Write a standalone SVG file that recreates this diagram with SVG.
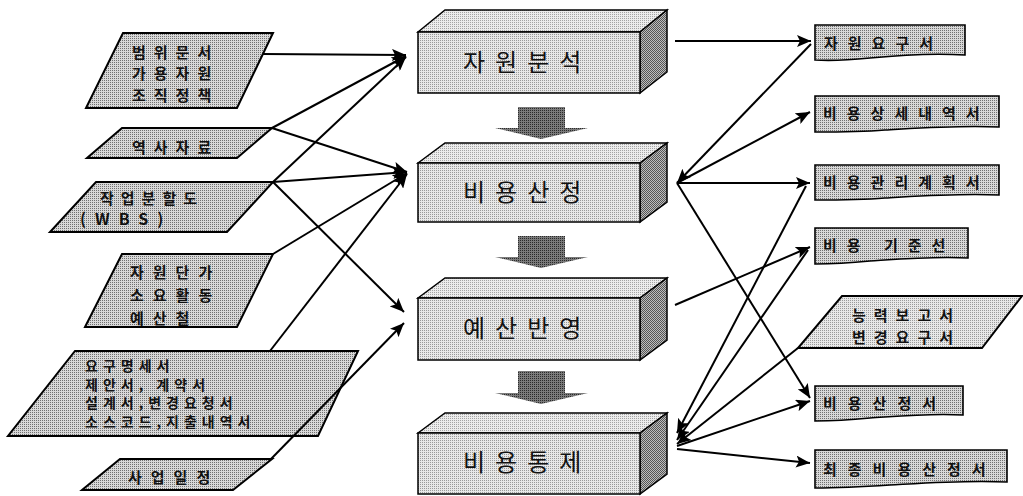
<svg xmlns="http://www.w3.org/2000/svg" width="1023" height="496" viewBox="0 0 1023 496">
  <defs>
    <!-- halftone fills -->
    <pattern id="dotMid" width="2" height="2" patternUnits="userSpaceOnUse">
      <rect width="2" height="2" fill="#d8d8d8"/>
      <rect width="1" height="1" fill="#707070"/>
    </pattern>
    <pattern id="dotLight" width="2" height="2" patternUnits="userSpaceOnUse">
      <rect width="2" height="2" fill="#e8e8e8"/>
      <rect width="1" height="1" fill="#9a9a9a"/>
    </pattern>
    <pattern id="dotTop" width="2" height="2" patternUnits="userSpaceOnUse">
      <rect width="2" height="2" fill="#ececec"/>
      <rect width="1" height="1" fill="#a4a4a4"/>
    </pattern>
    <pattern id="dotSide" width="2" height="2" patternUnits="userSpaceOnUse">
      <rect width="2" height="2" fill="#bdbdbd"/>
      <rect width="1" height="1" fill="#555"/>
      <rect x="1" y="1" width="1" height="1" fill="#555"/>
    </pattern>
    <pattern id="dotDark" width="2" height="2" patternUnits="userSpaceOnUse">
      <rect width="2" height="2" fill="#7a7a7a"/>
      <rect width="1" height="1" fill="#2a2a2a"/>
    </pattern>
    <marker id="arrow" markerUnits="userSpaceOnUse" markerWidth="15" markerHeight="12" refX="14" refY="6" orient="auto">
      <path d="M0,0 L14,6 L0,12 L3,6 Z" fill="#000"/>
    </marker>
  </defs>
  <style>
    .inp { fill: url(#dotMid); stroke: #000; stroke-width: 2; }
    .doc { fill: url(#dotMid); stroke: #000; stroke-width: 1.6; }
    .face { fill: url(#dotLight); stroke: #000; stroke-width: 1.5; }
    .top { fill: url(#dotTop); stroke: #000; stroke-width: 1.5; }
    .side { fill: url(#dotSide); stroke: #000; stroke-width: 1.5; }
    .flow { fill: url(#dotDark); stroke: none; }
    .t { font-family: "Noto Sans CJK KR", "Noto Sans", sans-serif; font-weight: 700; fill: #111; }
    .s16 { font-size: 15px; letter-spacing: 8px; }
    .s15 { font-size: 14px; letter-spacing: 5px; }
    .r15 { font-size: 15px; letter-spacing: 10px; }
    .big { font-family: "Noto Sans CJK KR", "Noto Sans", sans-serif; font-size: 24px; letter-spacing: 10px; fill: #111; }
    .conn line { stroke: #000; stroke-width: 2; marker-end: url(#arrow); }
  </style>

  <!-- inputs on the left -->
  <g id="in-scope">
    <polygon class="inp" points="123,33 273,33 237,108 86,108"/>
    <text class="t s16" x="132" y="58">범위문서</text>
    <text class="t s16" x="132" y="79">가용자원</text>
    <text class="t s16" x="132" y="101">조직정책</text>
  </g>
  <g id="in-history">
    <polygon class="inp" points="122,128 272,128 237,158 87,158"/>
    <text class="t s16" x="132" y="153">역사자료</text>
  </g>
  <g id="in-wbs">
    <polygon class="inp" points="96,182 273,182 227,232 50,232"/>
    <text class="t s16" x="100" y="204" style="letter-spacing:7px">작업분할도</text>
    <text class="t" x="80" y="225" style="font-size:16px;letter-spacing:9px">(WBS)</text>
  </g>
  <g id="in-rates">
    <polygon class="inp" points="122,254 273,254 237,327 85,327"/>
    <text class="t s16" x="130" y="278" style="letter-spacing:9px">자원단가</text>
    <text class="t s16" x="130" y="301" style="letter-spacing:9px">소요활동</text>
    <text class="t s16" x="130" y="324" style="letter-spacing:9px">예산철</text>
  </g>
  <g id="in-docs">
    <polygon class="inp" points="75,351 358,351 318,436 8,436"/>
    <text class="t s15" x="85" y="371">요구명세서</text>
    <text class="t s15" x="85" y="390">제안서, 계약서</text>
    <text class="t s15" x="85" y="408">설계서,변경요청서</text>
    <text class="t s15" x="85" y="427">소스코드,지출내역서</text>
  </g>
  <g id="in-schedule">
    <polygon class="inp" points="120,459 272,459 233,490 82,490"/>
    <text class="t s16" x="128" y="483" style="letter-spacing:9px">사업일정</text>
  </g>

  <!-- process blocks -->
  <g id="p-resource">
    <polygon class="top" points="418,32 445,10 667,10 640,32"/>
    <polygon class="side" points="640,32 667,10 667,72 640,93"/>
    <rect class="face" x="418" y="32" width="222" height="61"/>
    <text class="big" x="463" y="71">자원분석</text>
  </g>
  <g id="p-estimate">
    <polygon class="top" points="418,163 445,143 667,143 640,163"/>
    <polygon class="side" points="640,163 667,143 667,202 640,222"/>
    <rect class="face" x="418" y="163" width="222" height="59"/>
    <text class="big" x="463" y="201">비용산정</text>
  </g>
  <g id="p-budget">
    <polygon class="top" points="418,298 445,278 667,278 640,298"/>
    <polygon class="side" points="640,298 667,278 667,340 640,360"/>
    <rect class="face" x="418" y="298" width="222" height="62"/>
    <text class="big" x="463" y="337">예산반영</text>
  </g>
  <g id="p-control">
    <polygon class="top" points="418,433 445,413 667,413 640,433"/>
    <polygon class="side" points="640,433 667,413 667,474 640,494"/>
    <rect class="face" x="418" y="433" width="222" height="61"/>
    <text class="big" x="463" y="471">비용통제</text>
  </g>

  <!-- flow arrows between blocks -->
  <g id="flow-arrows">
    <path class="flow" d="M518,107 H565 V128 H588 L541,139 L495,128 H518 Z"/>
    <path class="flow" d="M518,236 H565 V257 H588 L541,268 L495,257 H518 Z"/>
    <path class="flow" d="M518,371 H565 V393 H588 L541,404 L495,393 H518 Z"/>
  </g>

  <!-- outputs on the right -->
  <g id="out-req">
    <path class="doc" d="M815,25 H965 V55 C935,53 900,55 870,58 C850,60 830,61 815,60 Z"/>
    <text class="t r15" x="824" y="49">자원요구서</text>
  </g>
  <g id="out-detail">
    <path class="doc" d="M815,96 H999 V127 C960,125 920,128 885,130 C860,132 835,132 815,132 Z"/>
    <text class="t r15" x="823" y="119">비용상세내역서</text>
  </g>
  <g id="out-plan">
    <path class="doc" d="M815,165 H999 V195 C960,193 920,196 885,198 C860,200 835,200 815,200 Z"/>
    <text class="t r15" x="823" y="188">비용관리계획서</text>
  </g>
  <g id="out-baseline">
    <path class="doc" d="M815,228 H968 V258 C935,256 900,259 870,261 C850,263 830,264 815,264 Z"/>
    <text class="t r15" x="823" y="251">비용 기준선</text>
  </g>
  <g id="in-reports">
    <polygon class="inp" points="842,296 1022,296 982,348 798,348" style="fill:url(#dotLight)"/>
    <text class="t" x="852" y="321" style="font-size:15px;letter-spacing:8px">능력보고서</text>
    <text class="t" x="852" y="343" style="font-size:15px;letter-spacing:8px">변경요구서</text>
  </g>
  <g id="out-estimate">
    <path class="doc" d="M815,386 H963 V415 C930,413 900,416 870,418 C850,420 830,421 815,421 Z"/>
    <text class="t r15" x="823" y="409" style="letter-spacing:11px">비용산정서</text>
  </g>
  <g id="out-final">
    <path class="doc" d="M815,450 H1007 V482 C965,480 925,483 890,485 C860,487 835,488 815,488 Z"/>
    <text class="t r15" x="823" y="475" style="letter-spacing:11px">최종비용산정서</text>
  </g>

  <!-- connectors -->
  <g id="connectors" class="conn">
    <line x1="263" y1="54" x2="406" y2="55"/>
    <line x1="272" y1="128" x2="406" y2="56"/>
    <line x1="273" y1="182" x2="406" y2="57"/>
    <line x1="272" y1="128" x2="407" y2="172"/>
    <line x1="273" y1="182" x2="407" y2="172"/>
    <line x1="273" y1="254" x2="407" y2="173"/>
    <line x1="270" y1="351" x2="407" y2="174"/>
    <line x1="273" y1="182" x2="404" y2="312"/>
    <line x1="271" y1="459" x2="404" y2="323"/>

    <line x1="675" y1="41" x2="811" y2="41"/>
    <line x1="811" y1="44" x2="677" y2="183"/>
    <line x1="677" y1="183" x2="810" y2="112"/>
    <line x1="677" y1="183" x2="810" y2="183"/>
    <line x1="677" y1="183" x2="810" y2="398"/>
    <line x1="806" y1="186" x2="677" y2="433"/>
    <line x1="675" y1="305" x2="810" y2="247"/>
    <line x1="808" y1="250" x2="677" y2="440"/>
    <line x1="798" y1="348" x2="677" y2="444"/>
    <line x1="677" y1="446" x2="810" y2="401"/>
    <line x1="677" y1="449" x2="810" y2="463"/>
  </g>
</svg>
